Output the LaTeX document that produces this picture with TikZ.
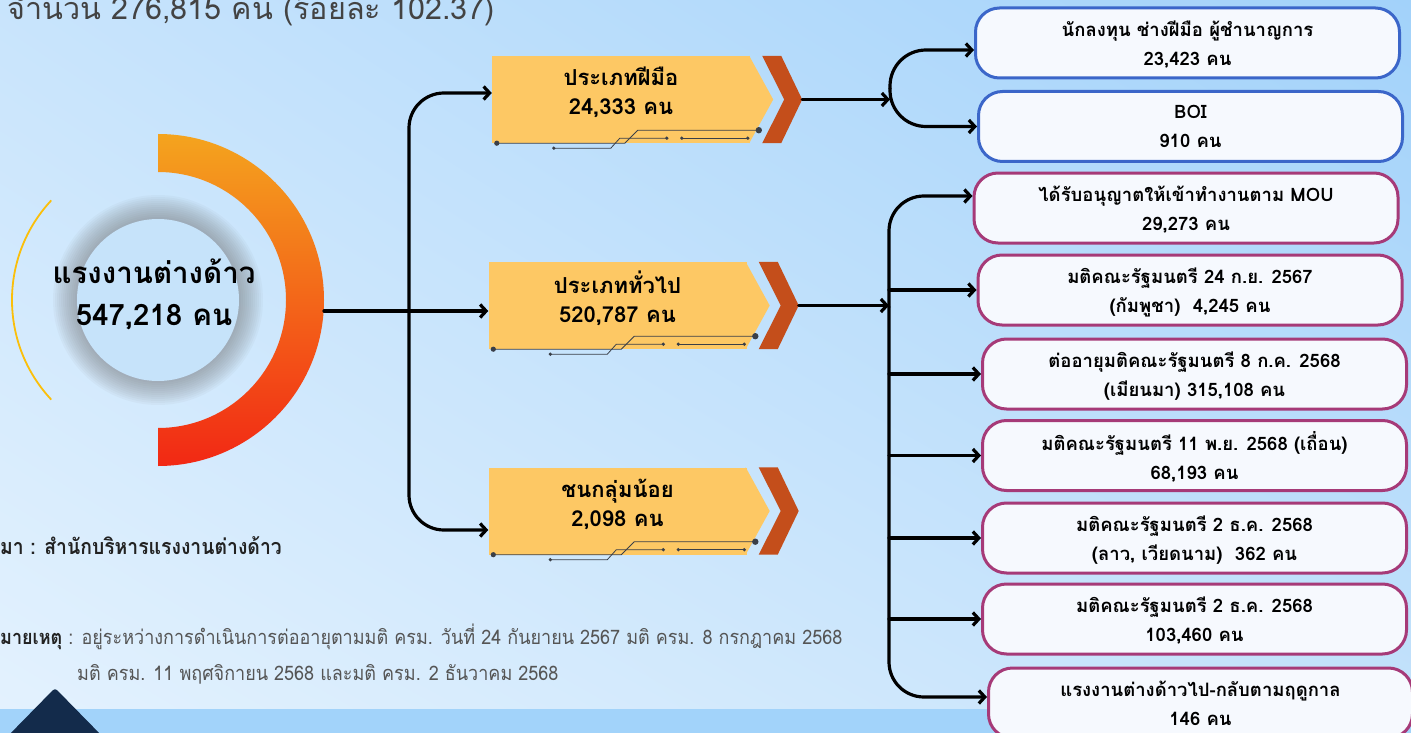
\documentclass[tikz,border=0pt]{standalone}
\usepackage{fontspec}
\setmainfont[Script=Thai]{Loma}
\newfontfamily\thainarrow[Script=Thai,FakeStretch=0.9]{Loma}
\usepackage{xcolor}
\usetikzlibrary{calc,
	positioning,
	shadings,
	arrows.meta}
\definecolor{bgul}{HTML}{C8E4FC}
\definecolor{bgur}{HTML}{A2D2FA}
\definecolor{bgll}{HTML}{E4F2FE}
\definecolor{bglr}{HTML}{C4E2FB}
\definecolor{band}{HTML}{A2D3FA}
\definecolor{navy}{HTML}{132B4B}
\definecolor{ringtop}{HTML}{F4A41E}
\definecolor{ringbot}{HTML}{F22814}
\definecolor{arcyellow}{HTML}{FBBF0A}
\definecolor{innerblue}{HTML}{C6E3FA}
\definecolor{boxorange}{HTML}{FDC864}
\definecolor{chevron}{HTML}{C44E1B}
\definecolor{wirec}{HTML}{3A3F48}
\definecolor{borderblue}{HTML}{3B66C9}
\definecolor{borderpink}{HTML}{A63A78}
\definecolor{boxwhite}{HTML}{F6F9FE}
\definecolor{darktext}{HTML}{222222}
\definecolor{notegray}{HTML}{555555}
\tikzstyle{conn}=[line width=3.2pt, line cap=round, -{Straight Barb[length=6pt,width=13pt]}]
\tikzstyle{catbox}=[rectangle, fill=boxorange, minimum width=258pt, minimum height=87pt,
		inner sep=0, align=center, text depth=17pt, font=\fontsize{22}{29}\selectfont\bfseries]
\tikzstyle{rbox}=[draw, line width=3pt, fill=boxwhite, rounded corners=24pt,
		minimum width=424pt, minimum height=70pt, inner sep=0, align=center,
		text depth=0pt, font=\fontsize{18.5}{29}\selectfont\bfseries]
\tikzstyle{bluebox}=[rbox, draw=borderblue]
\tikzstyle{pinkbox}=[rbox, draw=borderpink]
\tikzstyle{wire}=[draw=wirec, line width=0.8pt]

\begin{document}
\begin{tikzpicture}[x=1pt, y=-1pt]
        \useasboundingbox (0,0) rectangle (1411,733);
        % background
        \shade[upper left=bgul, upper right=bgur, lower left=bgll, lower right=bglr] (0,0) rectangle (1411,733);
        \fill[band] (0,709) rectangle (1411,733);
        \fill[navy, rounded corners=3pt] (4,740) -- (55,688) -- (106,740) -- cycle;
        \draw[white, opacity=0.5, line width=1pt] (1330,752) circle (22);

        \node[anchor=base west, inner sep=0, text=darktext!85, font=\fontsize{30.5}{34}\selectfont] (title) at (7,20) {จำนวน 276,815 คน (ร้อยละ 102.37)};

        % total
        \coordinate (c) at (158,300);
        \foreach \i in {1,...,12}
            \fill[black!55, opacity=0.05] (c) circle ({81+2*\i});
        \shade[top color=ringtop, bottom color=ringbot] ($(c)+(0,-166)$) arc[start angle=-90, end angle=90, radius=166]
            -- ($(c)+(0,128)$) arc[start angle=90, end angle=-90, radius=128] -- cycle;
        \draw[arcyellow, line width=1.8pt] ($(c)+(137:146)$) arc[start angle=137, end angle=223, radius=146];
        \node[circle, fill=innerblue, minimum size=162pt, inner sep=0] (lab) at (c) {};
        \node[align=center, inner sep=0, font=\fontsize{29.5}{42}\selectfont\bfseries] (labtext) at (154,294) {แรงงานต่างด้าว\\547,218 คน};

        % categories
        \node[catbox] (b1) at (621,99.5) {ประเภทฝีมือ\\24,333 คน};
        \node[catbox] (b2) at (617.5,305.5) {ประเภททั่วไป\\520,787 คน};
        \node[catbox] (b3) at (617.5,511) {ชนกลุ่มน้อย\\2,098 คน};
        \foreach \bx in {b1,b2,b3} {
            \fill[boxorange] ($(\bx.north east)+(-1,0)$) -- ($(\bx.east)+(23,0)$) -- ($(\bx.south east)+(-1,0)$) -- cycle;
            \fill[chevron] ($(\bx.north east)+(12,0)$) -- ($(\bx.north east)+(31,0)$) -- ($(\bx.east)+(52,0)$)
                -- ($(\bx.south east)+(31,0)$) -- ($(\bx.south east)+(12,0)$) -- ($(\bx.east)+(34,0)$) -- cycle;
            \coordinate (\bx-tip) at ($(\bx.east)+(52,0)$);
            \draw[wire] ($(\bx.south west)+(5,0)$) -- ++(128,0) -- ++(13,-13) -- ++(121,0);
            \draw[wire] ($(\bx.south west)+(62,5)$) -- ++(57,0) -- ++(9,-10) -- ++(47,0);
            \draw[wire] ($(\bx.south west)+(190,-5)$) -- ++(66,0);
            \fill[wirec] ($(\bx.south west)+(5,0)$) circle (2.6);
            \fill[wirec] ($(\bx.south west)+(267,-13)$) circle (3.2);
            \foreach \px/\py in {62/5,175/-5,190/-5,256/-5}
                \fill[wirec] ($(\bx.south west)+(\px,\py)$) circle (1.8);
        }

        \coordinate (ring) at (324,311);
        \coordinate (fork) at (409,311);
        \draw[conn] (ring) -- (ring -| b2.west);
        \draw[conn, rounded corners=35pt] (fork) |- ([yshift=6.5pt]b1.west);
        \draw[conn, rounded corners=35pt] (fork) |- ([yshift=-19pt]b3.west);

        % groups
        \node[bluebox] (r1) at (1187.5,43) {นักลงทุน ช่างฝีมือ ผู้ชำนาญการ\\23,423 คน};
        \node[bluebox] (r2) at (1190.5,126.5) {BOI\\910 คน};
        \node[pinkbox] (r3) at (1186,208) {ได้รับอนุญาตให้เข้าทำงานตาม MOU\\29,273 คน};
        \node[pinkbox] (r4) at (1190,290) {มติคณะรัฐมนตรี 24 ก.ย. 2567\\(กัมพูชา)~~4,245 คน};
        \node[pinkbox] (r5) at (1194.5,374) {ต่ออายุมติคณะรัฐมนตรี 8 ก.ค. 2568\\(เมียนมา) 315,108 คน};
        \node[pinkbox] (r6) at (1194.5,455.5) {มติคณะรัฐมนตรี 11 พ.ย. 2568 (เถื่อน)\\68,193 คน};
        \node[pinkbox] (r7) at (1194.5,538) {มติคณะรัฐมนตรี 2 ธ.ค. 2568\\(ลาว, เวียดนาม)~~362 คน};
        \node[pinkbox] (r8) at (1194.5,619) {มติคณะรัฐมนตรี 2 ธ.ค. 2568\\103,460 คน};
        \node[pinkbox] (r9) at (1200.5,703) {แรงงานต่างด้าวไป-กลับตามฤดูกาล\\146 คน};

        \coordinate (sp1) at (890,88.5);
        \draw[conn] (b1-tip) -- (b1-tip -| sp1);
        \draw[conn, rounded corners=36pt] (sp1) |- ([yshift=-7pt]r1.west);
        \draw[conn, rounded corners=36pt] (sp1) |- (r2.west);

        \coordinate (sp2) at (889,307);
        \draw[conn] (b2-tip) -- (b2-tip -| sp2);
        \draw[conn, rounded corners=35pt] (sp2) |- ([yshift=12pt]r3.west);
        \draw[conn, rounded corners=35pt] (sp2) |- ([yshift=6pt]r9.west);
        \foreach \r in {r4,r5,r6,r7,r8}
            \draw[conn] (sp2 |- \r.west) -- (\r.west);

        % notes
        \node[anchor=base west, inner sep=0, text=darktext, font=\thainarrow\fontsize{21.5}{24}\selectfont\bfseries] (src) at (0,554) {มา : สำนักบริหารแรงงานต่างด้าว};
        \node[anchor=base west, inner sep=0, text=notegray, font=\thainarrow\fontsize{20}{24}\selectfont] (note1) at (0,644) {\textcolor{darktext}{\bfseries มายเหตุ} : อยู่ระหว่างการดำเนินการต่ออายุตามมติ ครม. วันที่ 24 กันยายน 2567 มติ ครม. 8 กรกฎาคม 2568};
        \node[anchor=base west, inner sep=0, text=notegray, font=\thainarrow\fontsize{20}{24}\selectfont] (note2) at (77,680) {มติ ครม. 11 พฤศจิกายน 2568 และมติ ครม. 2 ธันวาคม 2568};
    \end{tikzpicture}
\end{document}
